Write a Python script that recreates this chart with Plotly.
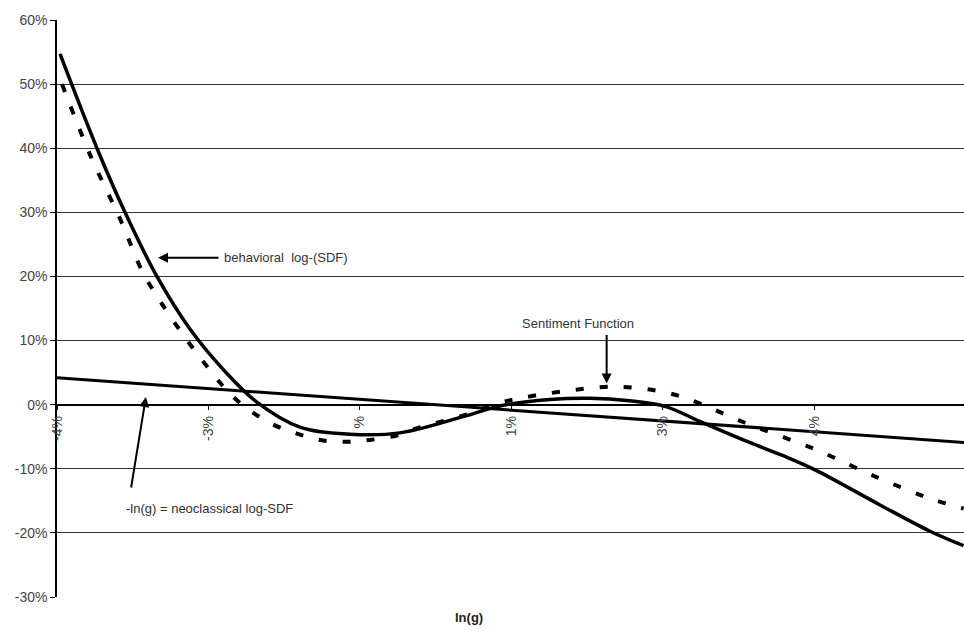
import plotly.graph_objects as go

# x positions are in tick-index units (0 = "-4%" tick, 1 = "-3%" tick, ...)
tick_vals = [0, 1, 2, 3, 4, 5, 6]
tick_text = ["-4%", "-3%", "%", "1%", "3%", "4%", "5%"]
y_tick_vals = [-30, -20, -10, 0, 10, 20, 30, 40, 50, 60]
y_tick_text = ["-30%", "-20%", "-10%", "0%", "10%", "20%", "30%", "40%", "50%", "60%"]

behav_x = [0.020, 0.264, 0.449, 0.660, 0.878, 1.109, 1.320, 1.604,
           1.934, 2.264, 2.706, 2.924, 3.254, 3.518, 3.782, 4.020, 4.244, 4.574,
           4.800, 5.010, 5.432, 5.762, 5.987]
behav_y = [54.7, 40, 30, 20, 11.8, 5.2, 0.4, -3.5,
           -4.6, -4.4, -1.7, -0.2, 0.8, 1.0, 0.6, -0.3, -2.6, -5.9,
           -8.0, -10.2, -15.6, -19.7, -22.0]

sent_x = [0.033, 0.218, 0.416, 0.561, 0.647, 0.845, 1.030, 1.142, 1.274, 1.419, 1.571,
          1.736, 1.901, 2.066, 2.244, 2.376, 2.726, 2.878, 3.056, 3.320, 3.683, 4.020,
          4.244, 4.508, 5.010, 5.432, 5.762, 5.987]
sent_y = [50, 39, 29, 20.9, 17.4, 10.5, 4.8, 1.7, -0.9, -3.0, -4.4,
          -5.5, -5.8, -5.5, -4.8, -3.7, -1.4, 0.0, 1.0, 2.0, 2.8, 1.9,
          0.2, -2.5, -7.0, -11.5, -14.6, -16.2]

neo_x = [0, 6]
neo_y = [4.2, -5.9]

fig = go.Figure()
fig.add_trace(go.Scatter(x=neo_x, y=neo_y, mode="lines",
                         line=dict(color="black", width=3), hoverinfo="skip"))
fig.add_trace(go.Scatter(x=sent_x, y=sent_y, mode="lines", line_shape="spline",
                         line=dict(color="black", width=4, dash="8px,16px"), hoverinfo="skip"))
fig.add_trace(go.Scatter(x=behav_x, y=behav_y, mode="lines", line_shape="spline",
                         line=dict(color="black", width=3.5), hoverinfo="skip"))

font_family = "Liberation Sans, Arial, sans-serif"
txt = dict(family=font_family, size=13, color="#333333")

# text labels
fig.add_annotation(x=1.089, y=22.9, text="behavioral  log-(SDF)", showarrow=False,
                   xanchor="left", yanchor="middle", font=txt)
fig.add_annotation(x=3.439, y=12.6, text="Sentiment Function", showarrow=False,
                   xanchor="center", yanchor="middle", font=txt)
fig.add_annotation(x=1.01, y=-16.2, text="-ln(g) = neoclassical log-SDF", showarrow=False,
                   xanchor="center", yanchor="middle", font=txt)
# arrows
fig.add_annotation(x=0.667, y=22.9, ax=62, ay=0, text="", showarrow=True,
                   arrowhead=2, arrowsize=1, arrowwidth=2, arrowcolor="black")
fig.add_annotation(x=3.630, y=3.3, ax=0, ay=-50, text="", showarrow=True,
                   arrowhead=2, arrowsize=1, arrowwidth=2, arrowcolor="black")
fig.add_annotation(x=0.587, y=1.2, ax=-15, ay=92, text="", showarrow=True,
                   arrowhead=2, arrowsize=1, arrowwidth=2, arrowcolor="black")
# axis title
fig.add_annotation(x=2.72, y=-0.036, xref="x", yref="paper", text="<b>ln(g)</b>",
                   showarrow=False, xanchor="center", yanchor="middle",
                   font=dict(family=font_family, size=13, color="#222"))

fig.update_layout(
    width=964, height=630,
    margin=dict(l=57, r=0, t=20, b=33, autoexpand=False),
    paper_bgcolor="white", plot_bgcolor="white",
    showlegend=False,
    xaxis=dict(range=[0, 5.99], tickvals=tick_vals, ticktext=tick_text,
               tickangle=-90, anchor="free", position=1/3, automargin=False,
               showline=True, linecolor="black", linewidth=1.5,
               ticks="outside", ticklen=5, tickcolor="black",
               showgrid=False, zeroline=False,
               tickfont=dict(family=font_family, size=14, color="#444")),
    yaxis=dict(range=[-30, 60], tickvals=y_tick_vals, ticktext=y_tick_text, automargin=False,
               showline=True, linecolor="black", linewidth=1.5,
               ticks="outside", ticklen=5, tickcolor="black",
               showgrid=True, gridcolor="#333333", gridwidth=1, zeroline=False,
               tickfont=dict(family=font_family, size=14, color="#444")),
)

fig.write_html("out.html", config={"displayModeBar": False},
               post_script="document.body.style.margin='0';document.body.style.padding='0';document.body.style.overflow='hidden';")
